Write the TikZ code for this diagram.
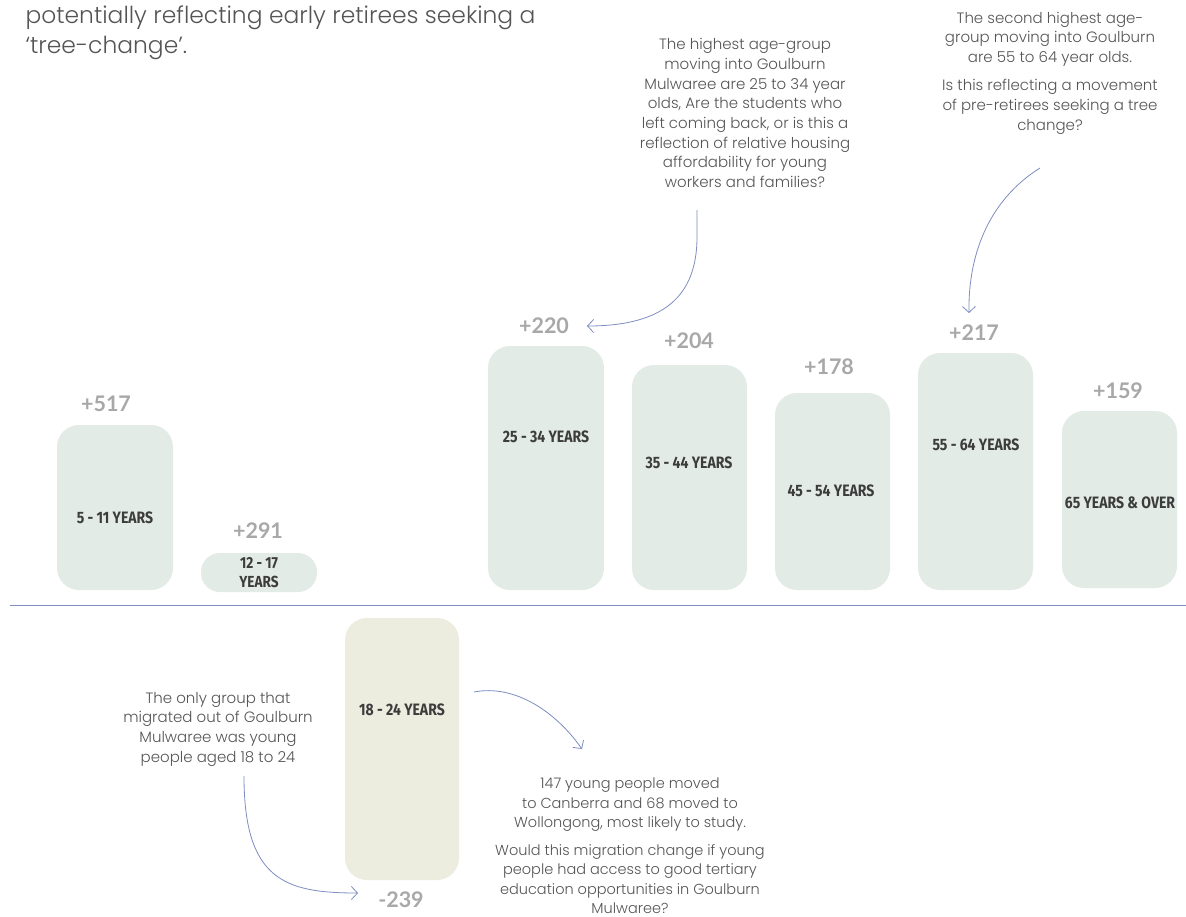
\documentclass[tikz,border=0pt]{standalone}
\usepackage{fontspec}
\setmainfont{Poppins}[UprightFont=* Light, BoldFont=* SemiBold]
\newfontfamily\valfont{Lato}
\newfontfamily\barfont[FakeStretch=0.85]{Fira Sans}
\usetikzlibrary{arrows.meta}
\definecolor{barfill}{HTML}{E3EBE6}
\definecolor{negfill}{HTML}{ECECDF}
\definecolor{linecol}{HTML}{7F8DC0}
\definecolor{anntext}{HTML}{555555}
\definecolor{valtext}{HTML}{A8A8A8}
\definecolor{bartext}{HTML}{3C3C3C}
\tikzset{
  bar/.style={fill=#1, draw=none, rounded corners=22pt},
  bar/.default=barfill,
  barlabel/.style={font=\barfont\bfseries\fontsize{16.5}{18}\selectfont, text=bartext, align=center},
  val/.style={font=\valfont\bfseries\fontsize{21.5}{24}\selectfont, text=valtext},
  ann/.style={font=\fontsize{15}{19.7}\selectfont, text=anntext, align=center},
  ann4/.style={font=\fontsize{14.5}{19.5}\selectfont, text=anntext, align=center},
  conn/.style={draw=linecol, line width=0.8pt, -{Straight Barb[length=6pt,width=13pt]}}
}
\begin{document}
\begin{tikzpicture}[x=1pt,y=-1pt]
\useasboundingbox (0,0) rectangle (1186,916);
\fill[white] (0,0) rectangle (1186,916);

% intro text
\node[anchor=west, font=\fontsize{23.4}{30}\selectfont, text=anntext, align=left] (intro) at (22,33)
 {potentially reflecting early retirees seeking a\\`tree-change'.};

% positive bars
\path[bar] (57,425) rectangle (173,590);
\node[barlabel] (b511) at (115,518) {5 - 11 YEARS};
\node[val] (v517) at (106,404) {+517};

\path[bar, rounded corners=19pt] (201,553) rectangle (317,592);
\node[barlabel, font=\barfont\bfseries\fontsize{16}{19}\selectfont] (b1217) at (259,573) {12 - 17\\YEARS};
\node[val] (v291) at (258,531) {+291};

\path[bar] (488,346) rectangle (604,590);
\node[barlabel] (b2534) at (546,437) {25 - 34 YEARS};
\node[val] (v220) at (544,326) {+220};

\path[bar] (632,365) rectangle (747,590);
\node[barlabel] (b3544) at (689,463) {35 - 44 YEARS};
\node[val] (v204) at (689,341) {+204};

\path[bar] (775,393) rectangle (890,590);
\node[barlabel] (b4554) at (831,491) {45 - 54 YEARS};
\node[val] (v178) at (829,367) {+178};

\path[bar] (918,353) rectangle (1033,590);
\node[barlabel] (b5564) at (976,445) {55 - 64 YEARS};
\node[val] (v217) at (974,333) {+217};

\path[bar] (1062,411) rectangle (1177,588);
\node[barlabel] (b65) at (1120,503) {65 YEARS \& OVER};
\node[val] (v159) at (1118,391) {+159};

% axis line
\coordinate (axl) at (10,605);
\coordinate (axr) at (1186,605);
\draw[linecol, line width=0.8pt] (axl) -- (axr);

% negative bar
\path[bar=negfill] (345,618) rectangle (459,880);
\node[barlabel] (b1824) at (402,710) {18 - 24 YEARS};
\node[val] (v239) at (401,900) {-239};

% annotations
\node[ann] (a1) at (745,113) {The highest age-group\\moving into Goulburn\\Mulwaree are 25 to 34 year\\olds, Are the students who\\left coming back, or is this a\\reflection of relative housing\\affordability for young\\workers and families?};

\node[ann] (a2a) at (1050,39) {The second highest age-\\group moving into Goulburn\\are 55 to 64 year olds.};
\node[ann] (a2b) at (1050,107) {Is this reflecting a movement\\of pre-retirees seeking a tree\\change?};

\node[ann] (a3) at (218,729) {The only group that\\migrated out of Goulburn\\Mulwaree was young\\people aged 18 to 24};

\node[ann4] (a4a) at (630,805) {147 young people moved\\to Canberra and 68 moved to\\Wollongong, most likely to study.};
\node[ann4] (a4b) at (630,879) {Would this migration change if young\\people had access to good tertiary\\education opportunities in Goulburn\\Mulwaree?};

% connectors
\coordinate (c1s) at (697,210);
\coordinate (c1e) at (587,326);
\draw[conn] (c1s) -- (697,237) .. controls (697,295) and (665,326) .. (c1e);

\coordinate (c2s) at (1040,168);
\coordinate (c2e) at (969,313);
\draw[conn] (c2s) .. controls (992,198) and (968,250) .. (c2e);

\coordinate (c3s) at (244,776);
\coordinate (c3e) at (358,893);
\draw[conn] (c3s) .. controls (244,880) and (285,893) .. (c3e);

\coordinate (c4s) at (474,692);
\coordinate (c4e) at (582,749);
\draw[conn] (c4s) .. controls (515,684) and (556,712) .. (c4e);
\end{tikzpicture}
\end{document}
